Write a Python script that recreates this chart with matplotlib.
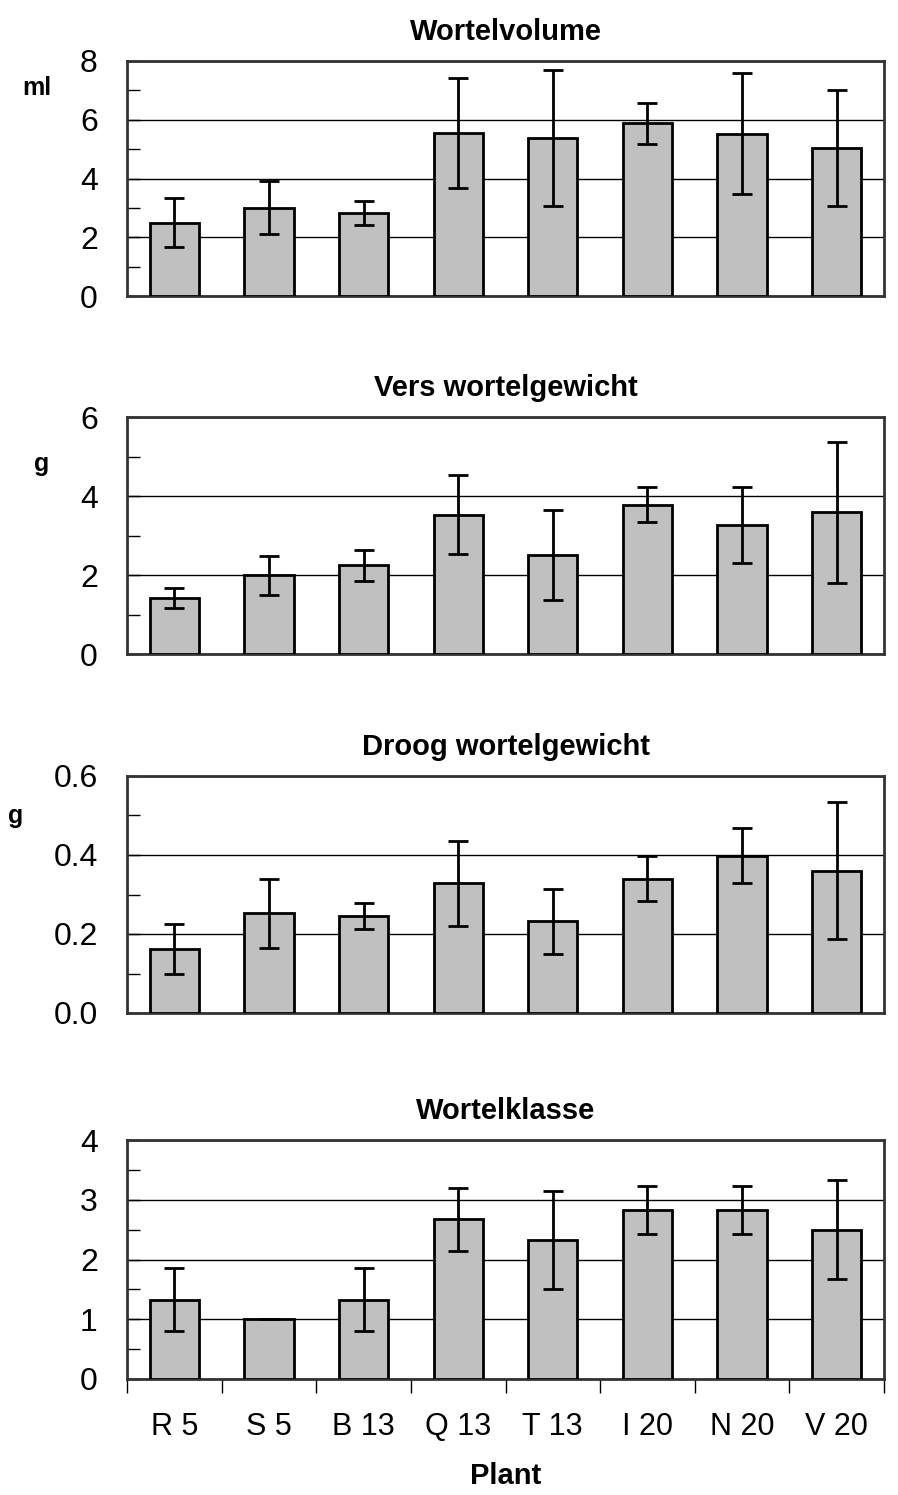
import numpy as np
import matplotlib
matplotlib.use("Agg")
import matplotlib.pyplot as plt
from matplotlib import font_manager
from matplotlib.ticker import MultipleLocator

planten = ["R 5", "S 5", "B 13", "Q 13", "T 13", "I 20", "N 20", "V 20"]

wortelvolume = [2.5, 3.0, 2.83, 5.55, 5.37, 5.88, 5.53, 5.03]
wortelvolume_err = [0.82, 0.9, 0.41, 1.87, 2.32, 0.7, 2.06, 1.98]

vers_gewicht = [1.42, 1.99, 2.25, 3.53, 2.5, 3.78, 3.27, 3.59]
vers_gewicht_err = [0.26, 0.5, 0.39, 1.01, 1.14, 0.45, 0.96, 1.78]

droog_gewicht = [0.162, 0.252, 0.245, 0.328, 0.232, 0.34, 0.398, 0.36]
droog_gewicht_err = [0.064, 0.087, 0.033, 0.107, 0.083, 0.057, 0.07, 0.173]

wortelklasse = [1.33, 1.0, 1.33, 2.67, 2.33, 2.83, 2.83, 2.5]
wortelklasse_err = [0.52, 0.0, 0.52, 0.53, 0.82, 0.4, 0.4, 0.83]

namen = [f.name for f in font_manager.fontManager.ttflist]
smal = "Liberation Sans Narrow" if "Liberation Sans Narrow" in namen else "Liberation Sans"

W, H = 898, 1495
fig = plt.figure(figsize=(W / 100, H / 100), dpi=100)

# (titel, waarden, fouten, ymax, stap, eenheid, boven, onder, label-x, label-y)
panelen = [
    ("Wortelvolume", wortelvolume, wortelvolume_err, 8, 2, "ml", 61, 296, 22, 88),
    ("Vers wortelgewicht", vers_gewicht, vers_gewicht_err, 6, 2, "g", 417, 654, 34, 464),
    ("Droog wortelgewicht", droog_gewicht, droog_gewicht_err, 0.6, 0.2, "g", 776, 1013, 8, 816),
    ("Wortelklasse", wortelklasse, wortelklasse_err, 4, 1, "", 1140, 1379, 0, 0),
]

links, rechts = 127, 884
x = np.arange(len(planten))

for i, (titel, waarden, fouten, ymax, stap, eenheid, boven, onder, lx, ly) in enumerate(panelen):
    ax = fig.add_axes([links / W, 1 - onder / H, (rechts - links) / W, (onder - boven) / H])
    ax.bar(x, waarden, width=0.52, color="#c0c0c0", edgecolor="black", linewidth=2, zorder=3)
    ax.errorbar(x, waarden, yerr=fouten, fmt="none", ecolor="black", elinewidth=2,
                capsize=7.5, capthick=2, zorder=4)
    ax.set_xlim(-0.5, len(planten) - 0.5)
    ax.set_ylim(0, ymax)
    ax.yaxis.set_major_locator(MultipleLocator(stap))
    ax.yaxis.set_minor_locator(MultipleLocator(stap / 2))
    ax.grid(axis="y", which="major", color="black", linewidth=1, zorder=1)
    ax.tick_params(axis="y", which="both", direction="in", length=9, width=1, pad=21,
                   labelsize=23)
    for lbl in ax.get_yticklabels():
        lbl.set_fontfamily(smal)
    if stap < 1:
        ax.set_yticklabels([f"{v:.1f}" for v in ax.get_yticks()], fontfamily=smal)
    for s in ax.spines.values():
        s.set_linewidth(2)
        s.set_color("#333333")
    ax.set_title(titel, fontsize=21, fontweight="bold", family=smal, pad=15)
    if eenheid:
        fig.text(lx / W, 1 - ly / H, eenheid, fontsize=18, fontweight="bold",
                 family=smal, ha="left", va="center")
    if i < len(panelen) - 1:
        ax.set_xticks([])
    else:
        ax.set_xticks(x)
        ax.set_xticklabels(planten, fontfamily=smal, fontsize=22)
        ax.set_xticks(np.arange(len(planten) + 1) - 0.5, minor=True)
        ax.tick_params(axis="x", which="major", length=0, pad=24)
        ax.tick_params(axis="x", which="minor", direction="out", length=10, width=1)
        ax.set_xlabel("Plant", fontsize=21, fontweight="bold", family=smal, labelpad=14)

fig.savefig("out.png", dpi=100)
